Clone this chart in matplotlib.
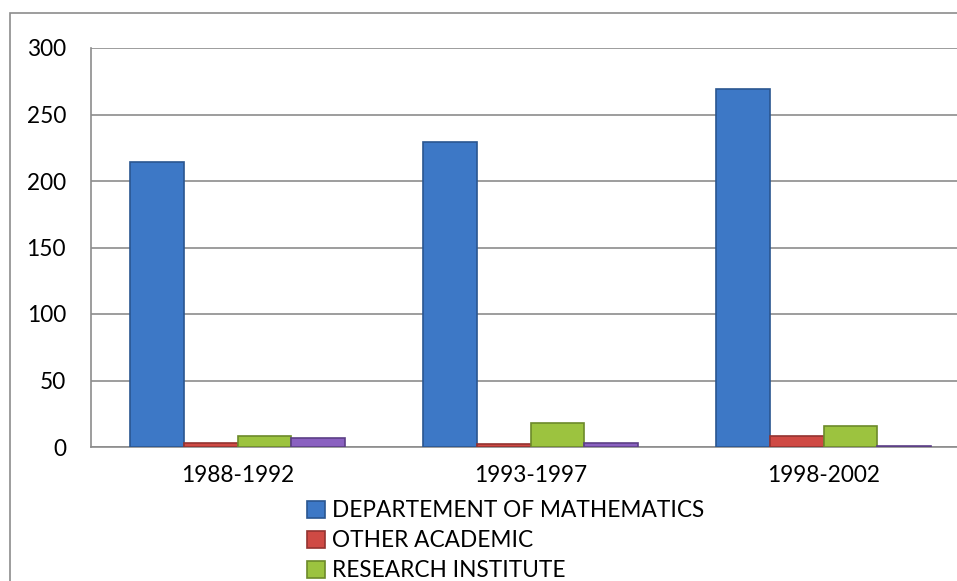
import numpy as np
import matplotlib.pyplot as plt
import matplotlib as mpl
from matplotlib.patches import Rectangle

mpl.rcParams['font.family'] = ['Lato', 'DejaVu Sans']
mpl.rcParams['font.size'] = 16.3

periods = ['1988-1992', '1993-1997', '1998-2002']
series = ['DEPARTEMENT OF MATHEMATICS', 'OTHER ACADEMIC', 'RESEARCH INSTITUTE', 'OTHER']
dept_math = [214, 229, 269]
other_academic = [3, 2, 8]
research_inst = [8, 18, 16]
other = [7, 3, 1]

values = [dept_math, other_academic, research_inst, other]
colors = ['#3d78c6', '#cf4a44', '#9cc33f', '#8a61c0']
edges = ['#2a5690', '#933330', '#6c8a2a', '#5c3f86']

fig = plt.figure(figsize=(9.57, 5.81), dpi=100)
# outer chart border
fig.patches.append(Rectangle((10/957, -0.1), 1.1, 1 - 13/581 + 0.1,
                             transform=fig.transFigure, fill=False,
                             edgecolor='#8c8c8c', lw=1.2))

ax = fig.add_axes([91/957, 1 - 447/581, 879/957, 399/581])

x = np.arange(len(periods))
w = 0.184
bars = []
for i, (vals, c, ec, name) in enumerate(zip(values, colors, edges, series)):
    b = ax.bar(x + (i - 1.5) * w, vals, w, color=c, edgecolor=ec, lw=1.2,
               label=name, zorder=3)
    bars.append(b)

ax.set_xlim(-0.5, 2.5)
ax.set_ylim(0, 300)
ax.set_yticks(range(0, 301, 50))
ax.set_xticks(x)
ax.set_xticklabels(periods)
ax.grid(axis='y', color='#8c8c8c', lw=1.2, zorder=0)
ax.tick_params(length=0)
ax.tick_params(axis='x', pad=13)
ax.tick_params(axis='y', pad=18)
for s in ['top', 'right']:
    ax.spines[s].set_visible(False)
ax.spines['left'].set_color('#8c8c8c')
ax.spines['bottom'].set_color('#8c8c8c')
ax.spines['left'].set_linewidth(1.2)
ax.spines['bottom'].set_linewidth(1.2)

# only three entries fit above the bottom edge
fig.legend(bars[:3], series[:3], loc='upper left',
           bbox_to_anchor=(296/957, 1 - 489/581),
           frameon=False, handlelength=0.8, handleheight=0.8,
           handletextpad=0.3, labelspacing=0.40, borderpad=0)

plt.savefig('out.png', dpi=100)
